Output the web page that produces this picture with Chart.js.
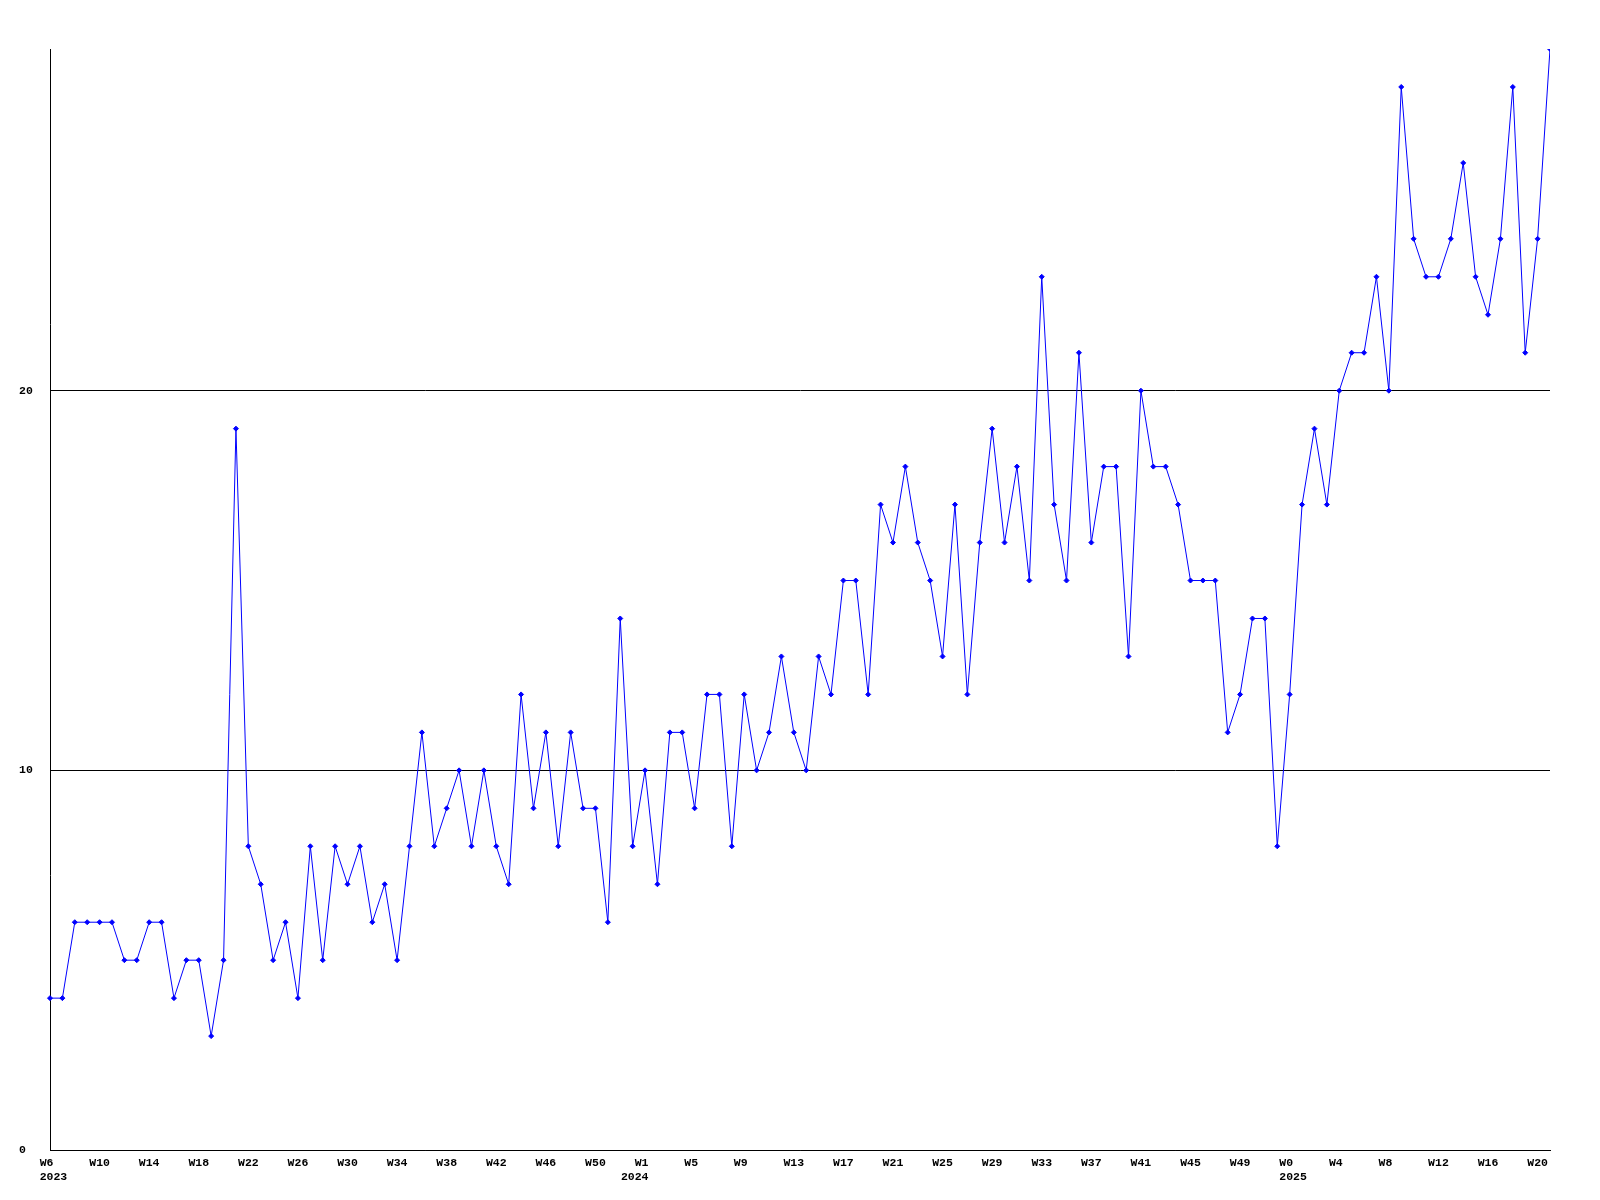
<!DOCTYPE html>
<html>

<head>
    <meta charset="UTF-8">
    <title>Weekly count</title>
    <style>
        body { margin: 0; background: #ffffff; }
        canvas { display: block; }
    </style>
</head>

<body>
    <canvas id="chart" width="1600" height="1200"></canvas>
    <script src="https://cdn.jsdelivr.net/npm/chart.js"></script>
    <script>
        // week numbers per year, as they appear on the axis
        const years = ['2023', '2024', '2025'];
        const weeks2023 = [6, 7, 8, 9, 10, 11, 12, 13, 14, 15, 16, 17, 18, 19, 20, 21, 22, 23, 24, 25, 26, 27, 28, 29, 30,
            31, 32, 33, 34, 35, 36, 37, 38, 39, 40, 41, 42, 43, 44, 45, 46, 47, 48, 49, 50, 51, 52, 53];
        const weeks2024 = [1, 2, 3, 4, 5, 6, 7, 8, 9, 10, 11, 12, 13, 14, 15, 16, 17, 18, 19, 20, 21, 22, 23, 24, 25, 26,
            27, 28, 29, 30, 31, 32, 33, 34, 35, 36, 37, 38, 39, 40, 41, 42, 43, 44, 45, 46, 47, 48, 49, 50, 51, 52];
        const weeks2025 = [0, 1, 2, 3, 4, 5, 6, 7, 8, 9, 10, 11, 12, 13, 14, 15, 16, 17, 18, 19, 20, 21];

        // counts per week
        const counts2023 = [4, 4, 6, 6, 6, 6, 5, 5, 6, 6, 4, 5, 5, 3, 5, 19, 8, 7, 5, 6, 4, 8, 5, 8, 7,
            8, 6, 7, 5, 8, 11, 8, 9, 10, 8, 10, 8, 7, 12, 9, 11, 8, 11, 9, 9, 6, 14, 8];
        const counts2024 = [10, 7, 11, 11, 9, 12, 12, 8, 12, 10, 11, 13, 11, 10, 13, 12, 15, 15, 12, 17, 16, 18, 16, 15, 13, 17,
            12, 16, 19, 16, 18, 15, 23, 17, 15, 21, 16, 18, 18, 13, 20, 18, 18, 17, 15, 15, 15, 11, 12, 14, 14, 8];
        const counts2025 = [12, 17, 19, 17, 20, 21, 21, 23, 20, 28, 24, 23, 23, 24, 26, 23, 22, 24, 28, 21, 24, 29];

        const yTicks = [0, 10, 20];
        const yMax = 29;
        const labelEvery = 4;

        // build the category labels, year under the first week of each year
        const weekLists = [weeks2023, weeks2024, weeks2025];
        const labels = [];
        const yearOf = [];
        weekLists.forEach((list, y) => {
            list.forEach((w, i) => {
                labels.push('W' + w);
                yearOf.push(i === 0 ? y : null);
            });
        });
        const counts = [...counts2023, ...counts2024, ...counts2025];

        // label text is placed a bit left of the tick in the original
        const pad3 = (s) => (s.length < 3 ? s + ' ' : s);
        const yearText = (y) => (y === 1 ? years[y] + '   ' : ' ' + years[y]);

        const ctx = document.getElementById('chart').getContext('2d');
        new Chart(ctx, {
            type: 'line',
            data: {
                labels: labels,
                datasets: [
                    {
                        data: counts,
                        borderColor: '#0000ff',
                        backgroundColor: '#0000ff',
                        borderWidth: 1,
                        tension: 0,
                        fill: false,
                        clip: { left: 5, top: 0, right: 0, bottom: 5 },
                        pointStyle: 'rectRot',
                        pointRadius: 2.5,
                        pointBorderWidth: 1,
                    },
                ],
            },
            options: {
                responsive: false,
                animation: false,
                layout: {
                    padding: { left: 19, right: 50, top: 49, bottom: 0 },
                },
                plugins: {
                    legend: { display: false },
                    title: { display: false },
                    tooltip: { enabled: false },
                },
                scales: {
                    x: {
                        offset: false,
                        grid: { display: false, drawTicks: false },
                        border: { display: true, color: '#000000', width: 1 },
                        afterFit: (scale) => { scale.height = 50; },
                        ticks: {
                            autoSkip: false,
                            maxRotation: 0,
                            minRotation: 0,
                            padding: 6,
                            color: '#000000',
                            font: { family: 'Liberation Mono', size: 11.5, weight: 'bold', lineHeight: 1.2 },
                            callback: function (value, index) {
                                if (index % labelEvery !== 0) return '';
                                const wk = pad3(labels[index]);
                                return yearOf[index] !== null ? [wk, yearText(yearOf[index])] : wk;
                            },
                        },
                    },
                    y: {
                        min: 0,
                        max: yMax,
                        afterFit: (scale) => { scale.width = 31; },
                        afterBuildTicks: (scale) => { scale.ticks = yTicks.map((v) => ({ value: v })); },
                        grid: { color: '#000000', lineWidth: 1, drawTicks: false },
                        border: { display: true, color: '#000000', width: 1 },
                        ticks: {
                            crossAlign: 'far',
                            color: '#000000',
                            font: { family: 'Liberation Mono', size: 11.5, weight: 'bold' },
                        },
                    },
                },
            },
        });
    </script>
</body>

</html>
